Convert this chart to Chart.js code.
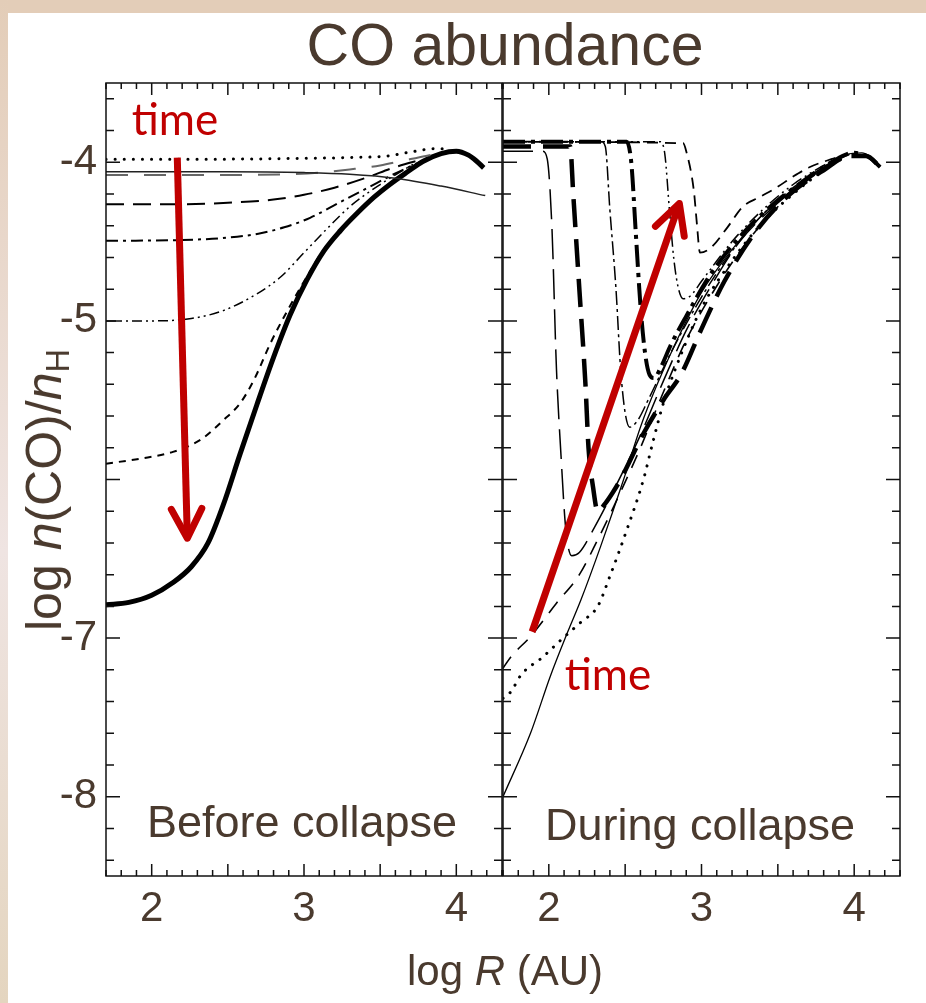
<!DOCTYPE html>
<html><head><meta charset="utf-8">
<script src="https://cdn.jsdelivr.net/npm/chart.js@4.4.0/dist/chart.umd.min.js"></script>
<style>
html,body{margin:0;padding:0;background:#fff;}
#wrap{position:relative;width:926px;height:1003px;overflow:hidden;background:#fff;font-family:"Liberation Sans",Arial,sans-serif;color:#4a3a2e;}
#barTop{position:absolute;left:0;top:0;width:926px;height:13px;background:#e3cdb8;}
#barLeft{position:absolute;left:0;top:0;width:8px;height:1003px;background:linear-gradient(#e3cdb8,#efe4e2 55%,#e4d5bf);}
canvas{position:absolute;left:0;top:0;}
.t{position:absolute;white-space:nowrap;line-height:1;transform:translateX(-50%);}
.red{color:#c00000;font-family:Lato,"Open Sans",sans-serif;}
#ytitle{position:absolute;left:44px;top:490px;white-space:nowrap;line-height:1;font-size:50px;transform:translate(-50%,-50%) rotate(-90deg);}
#ytitle sub{font-size:0.65em;vertical-align:-0.25em;line-height:0;}
</style></head>
<body>
<div id="wrap">
  <div id="barTop"></div><div id="barLeft"></div>
  <canvas id="cL" width="926" height="1003"></canvas>
  <canvas id="cR" width="926" height="1003"></canvas>
  <div class="t" style="left:505px;top:16px;font-size:59px;">CO abundance</div>
  <div class="t" style="left:505px;top:950px;font-size:42px;">log <i>R</i> (AU)</div>
  <div id="ytitle">log <i>n</i>(CO)/<i>n</i><sub>H</sub></div>
  <div class="t" style="left:302px;top:799px;font-size:45px;">Before collapse</div>
  <div class="t" style="left:700px;top:802px;font-size:45px;">During collapse</div>
  <div class="t red" style="left:175px;top:96px;font-size:44px;">time</div>
  <div class="t red" style="left:608px;top:651px;font-size:44px;">time</div>
</div>
<script>
// ---- axis ticks ----
const xTickValues = [2, 3, 4];
const yTickValues = [-8, -7, -5, -4];

// ---- Before collapse (left panel) ----
const L_dot_x = [1.70, 2.00, 2.50, 3.00, 3.30, 3.55, 3.70, 3.85, 3.95];
const L_dot_y = [-3.98, -3.98, -3.98, -3.975, -3.97, -3.96, -3.935, -3.915, -3.915];

const L_solid_x = [1.70, 2.50, 3.00, 3.30, 3.60, 3.90, 4.19];
const L_solid_y = [-4.06, -4.06, -4.065, -4.075, -4.10, -4.15, -4.21];

const L_longdash1_x = [1.70, 2.40, 2.90, 3.10, 3.30, 3.50, 3.65, 3.80, 3.92];
const L_longdash1_y = [-4.08, -4.08, -4.075, -4.065, -4.045, -4.02, -3.99, -3.96, -3.94];

const L_longdash2_x = [1.70, 2.20, 2.50, 2.80, 3.00, 3.20, 3.40, 3.60, 3.78];
const L_longdash2_y = [-4.265, -4.265, -4.255, -4.235, -4.205, -4.16, -4.10, -4.03, -3.98];

const L_dashdot_x = [1.70, 2.20, 2.50, 2.70, 2.87, 3.04, 3.24, 3.42, 3.60, 3.78];
const L_dashdot_y = [-4.495, -4.49, -4.475, -4.45, -4.41, -4.35, -4.25, -4.16, -4.07, -3.99];

const L_dashdot2_x = [1.70, 2.00, 2.26, 2.47, 2.69, 2.85, 3.00, 3.15, 3.30, 3.50, 3.72];
const L_dashdot2_y = [-5.00, -5.00, -4.985, -4.935, -4.83, -4.72, -4.57, -4.42, -4.28, -4.14, -4.01];

const L_shortdash_x = [1.70, 1.93, 2.14, 2.32, 2.47, 2.58, 2.67, 2.78, 2.90, 3.02, 3.13, 3.35, 3.57, 3.78];
const L_shortdash_y = [-5.90, -5.868, -5.826, -5.75, -5.627, -5.52, -5.375, -5.14, -4.92, -4.72, -4.55, -4.32, -4.13, -3.99];

const L_thick_x = [1.70, 1.85, 2.00, 2.14, 2.26, 2.37, 2.47, 2.58, 2.69, 2.80, 2.91, 3.02, 3.13, 3.24, 3.35, 3.46, 3.57, 3.68, 3.78, 3.90, 4.00, 4.08, 4.13, 4.18];
const L_thick_y = [-6.79, -6.775, -6.73, -6.65, -6.55, -6.40, -6.16, -5.84, -5.53, -5.23, -4.96, -4.74, -4.56, -4.43, -4.32, -4.22, -4.135, -4.06, -3.995, -3.945, -3.93, -3.955, -3.99, -4.035];

// ---- During collapse (right panel) ----
const R_solid_x = [1.70, 1.88, 2.01, 2.12, 2.21, 2.34, 2.49, 2.60, 2.71, 2.85, 3.00, 3.20, 3.40, 3.60, 3.80, 3.95, 4.05, 4.12, 4.17];
const R_solid_y = [-8.00, -7.60, -7.24, -6.97, -6.76, -6.42, -6.00, -5.67, -5.40, -5.10, -4.82, -4.55, -4.33, -4.17, -4.03, -3.95, -3.94, -3.98, -4.03];

const R_dot_x = [1.70, 1.75, 1.82, 1.96, 2.07, 2.21, 2.32, 2.40, 2.51, 2.62, 2.68, 2.75, 2.83, 3.00, 3.20, 3.40, 3.60, 3.80, 3.95];
const R_dot_y = [-7.38, -7.34, -7.23, -7.12, -7.02, -6.90, -6.80, -6.61, -6.32, -6.00, -5.77, -5.52, -5.30, -4.92, -4.62, -4.38, -4.20, -4.05, -3.96];

const R_longdash_x = [1.70, 1.75, 1.88, 2.05, 2.20, 2.32, 2.45, 2.60, 2.75, 2.90, 3.10, 3.30, 3.50, 3.70, 3.90];
const R_longdash_y = [-7.19, -7.12, -6.99, -6.78, -6.60, -6.38, -6.12, -5.80, -5.45, -5.12, -4.78, -4.50, -4.28, -4.11, -3.98];

const R_drop1_x = [1.70, 1.96, 1.99, 2.02, 2.05, 2.08, 2.11, 2.15, 2.20, 2.30, 2.45, 2.60, 2.75, 2.90, 3.05, 3.25, 3.45, 3.65, 3.85, 3.97];
const R_drop1_y = [-3.93, -3.93, -3.98, -4.40, -5.30, -5.85, -6.30, -6.48, -6.46, -6.30, -6.02, -5.72, -5.38, -5.06, -4.80, -4.50, -4.30, -4.14, -4.00, -3.95];

const R_drop2_x = [1.70, 2.14, 2.16, 2.20, 2.24, 2.26, 2.29, 2.32, 2.37, 2.42, 2.47, 2.62, 2.75, 2.87, 3.00, 3.15, 3.36, 3.58, 3.80, 3.97, 4.08, 4.17];
const R_drop2_y = [-3.90, -3.90, -4.20, -4.80, -5.40, -5.80, -6.05, -6.20, -6.15, -6.08, -6.00, -5.71, -5.50, -5.33, -5.05, -4.75, -4.43, -4.20, -4.05, -3.96, -3.96, -4.03];

const R_drop3_x = [1.70, 2.34, 2.37, 2.40, 2.44, 2.47, 2.50, 2.53, 2.58, 2.65, 2.80, 3.00, 3.20, 3.40, 3.60, 3.80, 3.95];
const R_drop3_y = [-3.87, -3.87, -3.90, -4.30, -4.80, -5.30, -5.58, -5.67, -5.63, -5.50, -5.20, -4.85, -4.56, -4.33, -4.16, -4.03, -3.95];

const R_drop4_x = [1.70, 2.51, 2.54, 2.57, 2.60, 2.63, 2.66, 2.69, 2.73, 2.80, 2.90, 3.05, 3.25, 3.45, 3.65, 3.85, 4.00, 4.10, 4.17];
const R_drop4_y = [-3.87, -3.87, -4.00, -4.45, -4.90, -5.20, -5.34, -5.36, -5.30, -5.15, -4.97, -4.72, -4.47, -4.28, -4.13, -4.00, -3.94, -3.97, -4.03];

const R_drop5_x = [1.70, 2.73, 2.76, 2.79, 2.82, 2.85, 2.88, 2.93, 3.00, 3.20, 3.40, 3.60, 3.80, 3.95];
const R_drop5_y = [-3.87, -3.87, -3.95, -4.30, -4.62, -4.80, -4.86, -4.84, -4.75, -4.50, -4.30, -4.14, -4.02, -3.95];

const R_drop6_x = [1.70, 2.88, 2.90, 2.95, 2.97, 2.99, 3.06, 3.17, 3.27, 3.38, 3.49, 3.60, 3.71, 3.85, 3.95];
const R_drop6_y = [-3.87, -3.88, -3.93, -4.18, -4.39, -4.57, -4.54, -4.41, -4.28, -4.22, -4.16, -4.09, -4.03, -3.98, -3.95];

// ---- styles ----
const leftSeries = [
  {x: L_solid_x, y: L_solid_y, w: 1.5, dash: [], c: '#222'},
  {x: L_longdash1_x, y: L_longdash1_y, w: 2, dash: [22, 16], c: '#666'},
  {x: L_dot_x, y: L_dot_y, w: 3, dash: [0.1, 9], cap: 'round'},
  {x: L_longdash2_x, y: L_longdash2_y, w: 2, dash: [18, 9]},
  {x: L_dashdot_x, y: L_dashdot_y, w: 2, dash: [12, 5, 3, 5]},
  {x: L_dashdot2_x, y: L_dashdot2_y, w: 1.5, dash: [10, 4, 2, 4, 2, 4]},
  {x: L_shortdash_x, y: L_shortdash_y, w: 2, dash: [7, 6]},
  {x: L_thick_x, y: L_thick_y, w: 5, dash: []}
];
const rightSeries = [
  {x: R_solid_x, y: R_solid_y, w: 1.3, dash: []},
  {x: R_dot_x, y: R_dot_y, w: 3, dash: [0.1, 9], cap: 'round'},
  {x: R_longdash_x, y: R_longdash_y, w: 1.6, dash: [14, 10]},
  {x: R_drop1_x, y: R_drop1_y, w: 1.5, dash: [30, 10]},
  {x: R_drop2_x, y: R_drop2_y, w: 4.5, dash: [28, 12]},
  {x: R_drop3_x, y: R_drop3_y, w: 1.5, dash: [14, 4, 3, 4]},
  {x: R_drop4_x, y: R_drop4_y, w: 4, dash: [22, 6, 4, 6]},
  {x: R_drop5_x, y: R_drop5_y, w: 1.5, dash: [12, 4, 2, 4, 2, 4]},
  {x: R_drop6_x, y: R_drop6_y, w: 1.8, dash: [11, 7]}
];

const TEXT = '#4a3a2e';
const frameTicks = {
  id: 'frameTicks',
  afterDatasetsDraw(chart) {
    const {ctx, chartArea: a, scales: {x, y}} = chart;
    ctx.save();
    ctx.strokeStyle = '#111'; ctx.lineWidth = 1.5; ctx.setLineDash([]);
    ctx.strokeRect(a.left, a.top, a.right - a.left, a.bottom - a.top);
    ctx.beginPath();
    for (let k = 17; k <= 43; k++) {
      const px = x.getPixelForValue(k / 10);
      const len = (k % 5 === 0) ? 12 : 6;
      ctx.moveTo(px, a.bottom); ctx.lineTo(px, a.bottom - len);
      ctx.moveTo(px, a.top); ctx.lineTo(px, a.top + len);
    }
    for (let k = -42; k <= -18; k++) {
      const py = y.getPixelForValue(k / 5);
      const len = (k % 5 === 0) ? 14 : 8;
      ctx.moveTo(a.left, py); ctx.lineTo(a.left + len, py);
      ctx.moveTo(a.right, py); ctx.lineTo(a.right - len, py);
    }
    ctx.stroke();
    ctx.restore();
  }
};
const arrowPlugin = {
  id: 'arrows',
  afterDraw(chart, args, opts) {
    const {ctx, scales: {x, y}} = chart;
    (opts.list || []).forEach(ar => {
      const x0 = x.getPixelForValue(ar.from[0]), y0 = y.getPixelForValue(ar.from[1]);
      const x1 = x.getPixelForValue(ar.to[0]), y1 = y.getPixelForValue(ar.to[1]);
      const ang = Math.atan2(y1 - y0, x1 - x0);
      ctx.save();
      ctx.strokeStyle = '#c00000'; ctx.lineWidth = 7; ctx.setLineDash([]);
      ctx.lineCap = 'butt';
      ctx.beginPath(); ctx.moveTo(x0, y0); ctx.lineTo(x1 - 2 * Math.cos(ang), y1 - 2 * Math.sin(ang)); ctx.stroke();
      ctx.lineCap = 'round'; ctx.lineJoin = 'round';
      const L = 33, h = 0.48;
      ctx.beginPath();
      ctx.moveTo(x1 - L * Math.cos(ang - h), y1 - L * Math.sin(ang - h));
      ctx.lineTo(x1, y1);
      ctx.lineTo(x1 - L * Math.cos(ang + h), y1 - L * Math.sin(ang + h));
      ctx.stroke();
      ctx.restore();
    });
  }
};

function mk(xs, ys) { return xs.map((v, i) => ({x: v, y: ys[i]})); }

function makeChart(id, series, cfg) {
  return new Chart(document.getElementById(id), {
    type: 'line',
    data: {
      datasets: series.map(s => ({
        data: mk(s.x, s.y),
        borderColor: s.c || '#000',
        borderWidth: s.w,
        borderDash: s.dash,
        borderCapStyle: s.cap || 'butt',
        pointRadius: 0,
        fill: false,
        cubicInterpolationMode: 'monotone'
      }))
    },
    options: {
      responsive: false,
      animation: false,
      events: [],
      layout: {padding: cfg.padding},
      plugins: {legend: {display: false}, tooltip: {enabled: false}, title: {display: false},
                arrows: {list: cfg.arrows}},
      scales: {
        x: {
          type: 'linear', min: 1.7, max: 4.3,
          grid: {display: false, drawTicks: false}, border: {display: false},
          afterBuildTicks: s => { s.ticks = xTickValues.map(v => ({value: v})); },
          afterFit: s => { s.height = 127; },
          ticks: {color: TEXT, font: {family: 'Liberation Sans', size: 42}, padding: 8,
                  callback: v => String(v), maxRotation: 0, autoSkip: false}
        },
        y: {
          type: 'linear', min: -8.5, max: -3.5, display: cfg.showY,
          grid: {display: false, drawTicks: false}, border: {display: false},
          afterBuildTicks: s => { s.ticks = yTickValues.map(v => ({value: v})); },
          afterFit: s => { s.width = cfg.showY ? 106 : 0; },
          ticks: {color: TEXT, font: {family: 'Liberation Sans', size: 42}, padding: 9,
                  callback: v => String(v), autoSkip: false}
        }
      }
    },
    plugins: [frameTicks, arrowPlugin]
  });
}

makeChart('cL', leftSeries, {
  padding: {left: 0, top: 83, right: 424, bottom: 0}, showY: true,
  arrows: [{from: [2.168, -3.97], to: [2.234, -6.37]}]
});
makeChart('cR', rightSeries, {
  padding: {left: 503, top: 83, right: 26, bottom: 0}, showY: false,
  arrows: [{from: [1.891, -6.96], to: [2.855, -4.26]}]
});
</script>
</body></html>
